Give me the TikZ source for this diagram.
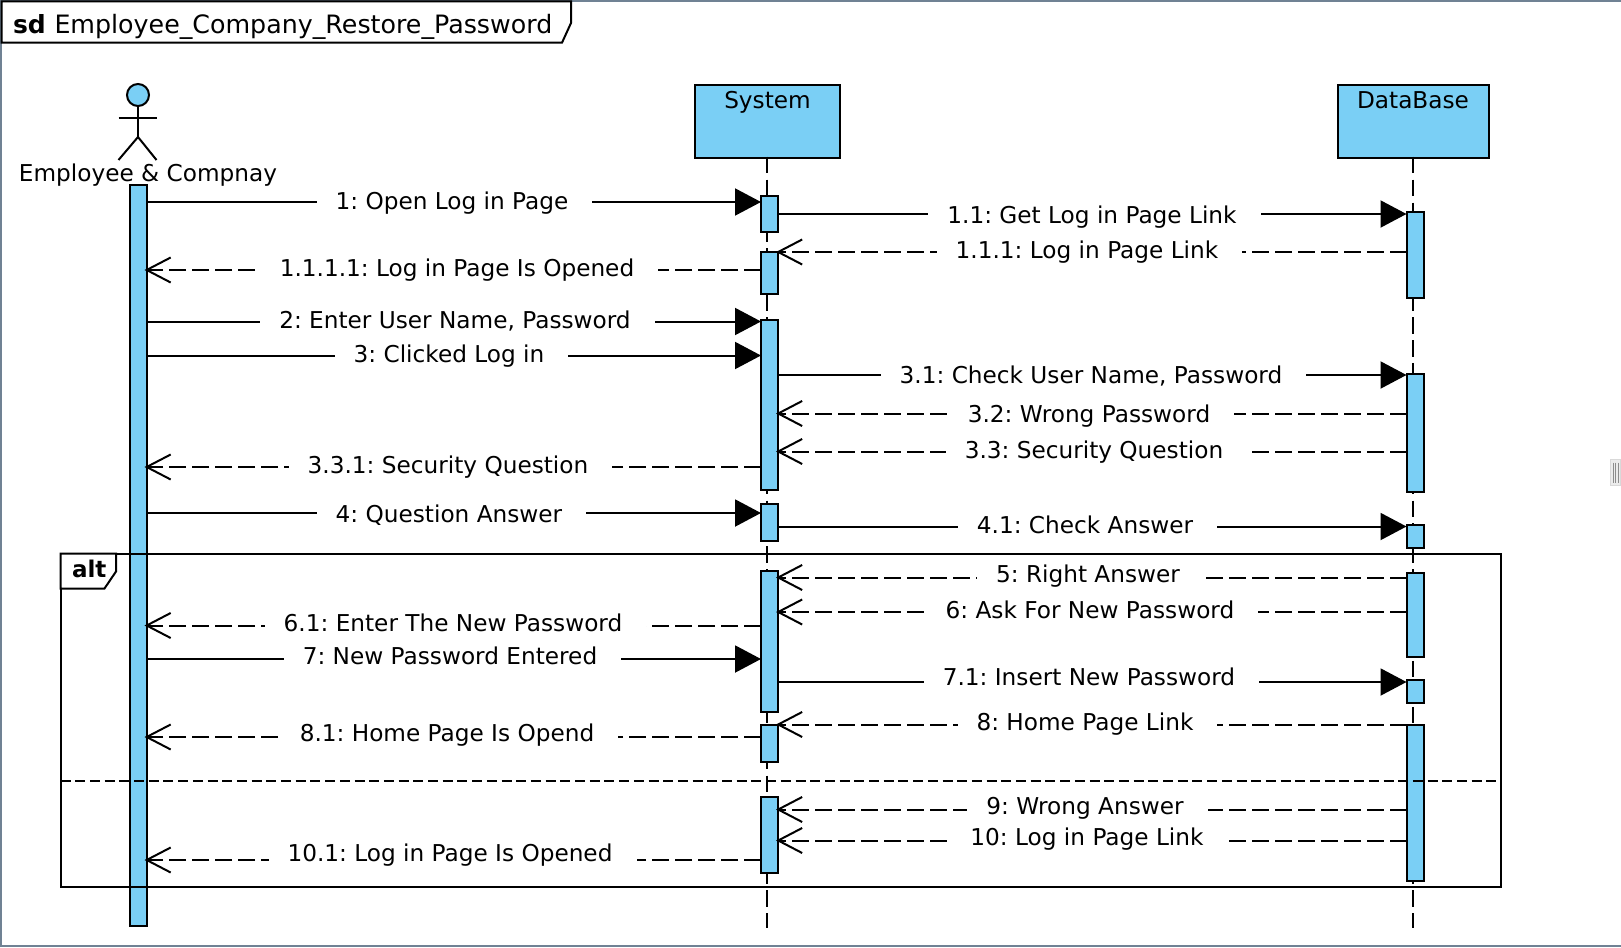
\documentclass[tikz,border=0pt]{standalone}
\usepackage{fontspec}
\setmainfont{DejaVu Sans}
\usepackage{xcolor}
\usetikzlibrary{positioning,arrows.meta}
\definecolor{barblue}{HTML}{7ACFF5}
\definecolor{edgegray}{HTML}{708294}

\begin{document}
\frenchspacing
\begin{tikzpicture}[x=1pt, y=-1pt, line width=2pt,
  font=\fontsize{23.2}{28}\selectfont,
  partbox/.style={draw, fill=barblue, inner sep=0pt, minimum width=145pt, minimum height=73pt},
  actbar/.style={draw, fill=barblue, inner sep=0pt, outer sep=0pt, minimum width=17pt},
  msgtext/.style={fill=white, inner xsep=19pt, inner ysep=0pt, text height=17pt, text depth=5pt,
                  xshift=2.5pt, execute at end node=\hspace*{5pt}},
  lifeline/.style={dash pattern=on 16.5pt off 6.42pt},
  callmsg/.style={-{Triangle[length=26pt,width=27pt]}},
  backmsg/.style={dash pattern=on 17pt off 6pt, shorten >=-2pt, -{Straight Barb[length=24pt,width=25pt]}}]
% page
\useasboundingbox (0,0) rectangle (1621,947);
\fill[white] (0,0) rectangle (1621,947);
\draw[edgegray] (1,947) -- (1,1) -- (1621,1);
\draw[edgegray] (0,945.5) -- (1621,945.5);
% grip
\node[draw=black!15, fill=black!8, line width=1pt, inner sep=0pt, minimum width=10pt, minimum height=26pt] (grip) at (1615.5,472.5) {};
\draw[black!45, line width=.7pt] ([xshift=-2.5pt]grip.center) ++(0,-10) -- ++(0,20);
\draw[black!45, line width=.7pt] (grip.center) ++(0,-10) -- ++(0,20);
\draw[black!45, line width=.7pt] ([xshift=2.5pt]grip.center) ++(0,-10) -- ++(0,20);

% sd frame tab
\draw[fill=white] (1.5,1.5) -- (571,1.5) -- (571,23) -- (562,42.7) -- (1.5,42.7) -- cycle;
\node[anchor=base west, inner sep=0pt, font=\fontsize{25}{28}\selectfont] (sdtag) at (12,33.5) {\textbf{sd}};
\node[anchor=base west, inner sep=0pt, font=\fontsize{25.3}{28}\selectfont] (sdname) at (53.5,33.5) {Employee\_Company\_Restore\_Password};

% actor
\draw[fill=barblue] (138,95) circle (11);
\coordinate (neck) at (138,106);
\coordinate (hip) at (138,137);
\draw (neck) -- (hip);
\draw (118.5,118) -- (156.5,118);
\draw (118.5,160) -- (hip) -- (156.5,160);
\node[inner sep=0pt] (emp) at (148,175) {Employee \& Compnay};

% parts and their lifelines
\node[partbox, label={[anchor=north, inner sep=0pt, yshift=-6.5pt]north:System}] (sys) at (767.5,121.5) {};
\node[partbox, minimum width=151pt, label={[anchor=north, inner sep=0pt, yshift=-6.5pt]north:DataBase}] (db) at (1413,121.5) {};
\coordinate (sysend) at (767,928);
\coordinate (dbend) at (1413,928);
\draw[lifeline] (767,156.7) -- (sysend);
\draw[lifeline] (1413,156.7) -- (dbend);

% activation bars
\node[actbar, minimum height=741pt] (empbar) at (138,555.5) {};
\node[actbar, minimum height=36pt] (sysa) at (769.5,214) {};
\node[actbar, minimum height=42pt] (sysb) at (769.5,272.5) {};
\node[actbar, minimum height=170pt] (sysc) at (769.5,405) {};
\node[actbar, minimum height=37pt] (sysd) at (769.5,522) {};
\node[actbar, minimum height=141pt] (syse) at (769.5,641) {};
\node[actbar, minimum height=37pt] (sysf) at (769.5,743.5) {};
\node[actbar, minimum height=76pt] (sysg) at (769.5,835) {};
\node[actbar, minimum height=86pt] (dba) at (1415,255) {};
\node[actbar, minimum height=118pt] (dbb) at (1415,433) {};
\node[actbar, minimum height=23pt] (dbc) at (1415,536.5) {};
\node[actbar, minimum height=84pt] (dbd) at (1415,615) {};
\node[actbar, minimum height=23pt] (dbe) at (1415,691.5) {};
\node[actbar, minimum height=156pt] (dbf) at (1415,803) {};

% messages
\draw[callmsg] (empbar.east |- 0,202) -- (sysa.west |- 0,202);
\draw[callmsg] (sysa.east |- 0,214) -- (dba.west |- 0,214);
\draw[backmsg] (dba.west |- 0,252) -- (sysb.east |- 0,252);
\draw[backmsg] (sysb.west |- 0,270) -- (empbar.east |- 0,270);
\draw[callmsg] (empbar.east |- 0,321.5) -- (sysc.west |- 0,321.5);
\draw[callmsg] (empbar.east |- 0,355.5) -- (sysc.west |- 0,355.5);
\draw[callmsg] (sysc.east |- 0,375) -- (dbb.west |- 0,375);
\draw[backmsg] (dbb.west |- 0,413.5) -- (sysc.east |- 0,413.5);
\draw[backmsg] (dbb.west |- 0,451.5) -- (sysc.east |- 0,451.5);
\draw[backmsg] (sysc.west |- 0,467) -- (empbar.east |- 0,467);
\draw[callmsg] (empbar.east |- 0,513) -- (sysd.west |- 0,513);
\draw[callmsg] (sysd.east |- 0,526.5) -- (dbc.west |- 0,526.5);
\draw[backmsg] (dbd.west |- 0,577.5) -- (syse.east |- 0,577.5);
\draw[backmsg] (dbd.west |- 0,612) -- (syse.east |- 0,612);
\draw[backmsg] (syse.west |- 0,625.5) -- (empbar.east |- 0,625.5);
\draw[callmsg] (empbar.east |- 0,659) -- (syse.west |- 0,659);
\draw[callmsg] (syse.east |- 0,682) -- (dbe.west |- 0,682);
\draw[backmsg] (dbf.west |- 0,724.5) -- (sysf.east |- 0,724.5);
\draw[backmsg] (sysf.west |- 0,737) -- (empbar.east |- 0,737);
\draw[backmsg] (dbf.west |- 0,809.5) -- (sysg.east |- 0,809.5);
\draw[backmsg] (dbf.west |- 0,840.5) -- (sysg.east |- 0,840.5);
\draw[backmsg] (sysg.west |- 0,860) -- (empbar.east |- 0,860);

% message labels
\node[msgtext] (m1) at (452,203) {1: Open Log in Page};
\node[msgtext] (m11) at (1092,217) {1.1: Get Log in Page Link};
\node[msgtext] (m111) at (1087,252) {1.1.1: Log in Page Link};
\node[msgtext] (m1111) at (457,270) {1.1.1.1: Log in Page Is Opened};
\node[msgtext] (m2) at (455,322) {2: Enter User Name, Password};
\node[msgtext] (m3) at (449,356) {3: Clicked Log in};
\node[msgtext] (m31) at (1091,377) {3.1: Check User Name, Password};
\node[msgtext] (m32) at (1089,416) {3.2: Wrong Password};
\node[msgtext] (m33) at (1094,452) {3.3: Security Question};
\node[msgtext] (m331) at (448,467) {3.3.1: Security Question};
\node[msgtext] (m4) at (449,516) {4: Question Answer};
\node[msgtext] (m41) at (1085,527) {4.1: Check Answer};
\node[msgtext] (m5) at (1088,576) {5: Right Answer};
\node[msgtext] (m6) at (1090,612) {6: Ask For New Password};
\node[msgtext] (m61) at (453,625) {6.1: Enter The New Password};
\node[msgtext] (m7) at (450,658) {7: New Password Entered};
\node[msgtext] (m71) at (1089,679) {7.1: Insert New Password};
\node[msgtext] (m8) at (1085,724) {8: Home Page Link};
\node[msgtext] (m81) at (447,735) {8.1: Home Page Is Opend};
\node[msgtext] (m9) at (1085,808) {9: Wrong Answer};
\node[msgtext] (m10) at (1087,839) {10: Log in Page Link};
\node[msgtext] (m101) at (450,855) {10.1: Log in Page Is Opened};

% alt frame
\draw (60.5,553.5) rectangle (1501,887);
\draw[fill=white] (60.5,553.5) -- (116,553.5) -- (116,571.5) -- (104.5,588.5) -- (60.5,588.5) -- cycle;
\node[anchor=base west, inner sep=0pt, font=\fontsize{23}{28}\selectfont\bfseries] (alttag) at (71,577) {alt};
\coordinate (altl) at (60.5,780.5);
\coordinate (altr) at (1501,780.5);
\draw[dash pattern=on 10pt off 4.7pt] (altl) -- (altr);
\end{tikzpicture}
\end{document}
